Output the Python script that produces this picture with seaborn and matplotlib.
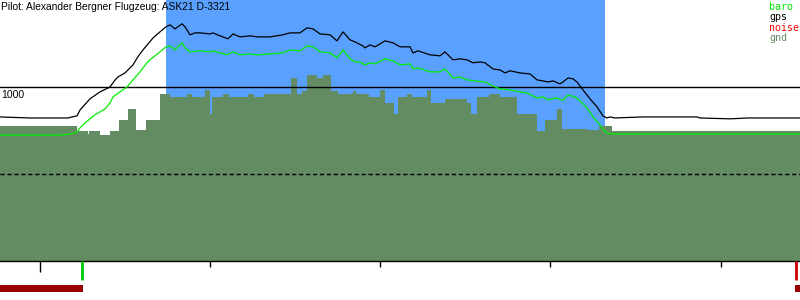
import matplotlib
matplotlib.use("Agg")
import matplotlib.pyplot as plt
import seaborn as sns
import numpy as np
import pandas as pd

# ---------------- data ----------------
title = "Pilot: Alexander Bergner Flugzeug: ASK21 D-3321"

# time axis in sample units (0..800)
gps_t = [0, 30, 60, 68, 72, 77, 80, 85, 90, 100, 110, 115, 118, 125, 133, 138, 143, 153, 160,
         166, 170, 175, 182, 185, 190, 195, 200, 210, 213, 220, 228, 233, 240, 250, 257, 270,
         283, 290, 300, 307, 313, 320, 330, 337, 343, 350, 355, 363, 365, 370, 375, 385, 393,
         400, 410, 413, 418, 430, 440, 445, 453, 460, 467, 473, 480, 485, 493, 500, 505, 510,
         520, 530, 537, 543, 548, 553, 560, 563, 568, 573, 577, 583, 590, 597, 603, 607, 610,
         615, 643, 697, 700, 730, 748, 800]
gps_alt = [828, 822, 822, 822, 828, 834, 868, 900, 932, 972, 1000, 1040, 1058, 1081, 1127, 1175,
           1213, 1282, 1317, 1346, 1357, 1334, 1363, 1346, 1300, 1311, 1311, 1305, 1311, 1294,
           1277, 1305, 1288, 1294, 1288, 1288, 1300, 1311, 1311, 1340, 1334, 1305, 1300, 1265,
           1317, 1271, 1259, 1236, 1225, 1242, 1231, 1265, 1254, 1231, 1231, 1196, 1208, 1185,
           1179, 1202, 1156, 1162, 1156, 1139, 1144, 1139, 1104, 1098, 1081, 1093, 1081, 1075,
           1041, 1035, 1029, 1035, 1018, 1029, 1052, 1047, 1029, 983, 932, 886, 834, 822, 828,
           822, 828, 828, 822, 817, 822, 822]

baro_t = [0, 60, 65, 70, 77, 80, 85, 90, 95, 100, 105, 110, 113, 120, 127, 133, 140, 147, 150,
          160, 166, 170, 175, 182, 185, 190, 200, 210, 213, 220, 227, 233, 240, 250, 257, 270,
          283, 290, 300, 307, 313, 320, 330, 337, 343, 350, 355, 360, 365, 370, 375, 385, 393,
          400, 410, 413, 418, 430, 440, 445, 453, 460, 467, 475, 485, 493, 500, 510, 520, 527,
          537, 543, 548, 555, 563, 568, 575, 580, 587, 593, 600, 605, 610, 800]
baro_alt = [724, 724, 726, 730, 741, 765, 793, 817, 840, 857, 874, 908, 943, 972, 1000, 1041,
            1087, 1139, 1156, 1202, 1231, 1236, 1213, 1254, 1225, 1202, 1208, 1202, 1208, 1196,
            1185, 1202, 1185, 1190, 1185, 1190, 1196, 1213, 1208, 1236, 1231, 1202, 1196, 1167,
            1213, 1162, 1144, 1144, 1127, 1139, 1133, 1162, 1150, 1127, 1133, 1104, 1110, 1087,
            1087, 1104, 1052, 1058, 1041, 1035, 1029, 1006, 989, 983, 972, 966, 937, 943, 925,
            937, 925, 954, 943, 920, 880, 828, 782, 742, 730, 730]

gnd_t = [0, 77, 88, 89, 100, 110, 119, 128, 136, 146, 160, 170, 187, 192, 205, 210, 212, 223,
         229, 248, 254, 264, 291, 297, 302, 307, 317, 323, 331, 338, 353, 356, 369, 380, 385,
         394, 398, 407, 412, 427, 431, 445, 467, 471, 477, 489, 500, 517, 537, 545, 557, 562,
         587, 599, 612]
gnd_alt = [776, 747, 730, 747, 724, 747, 811, 874, 753, 811, 960, 943, 960, 943, 983, 845, 943,
           960, 943, 960, 943, 960, 1052, 960, 977, 1069, 1052, 1069, 977, 960, 977, 960, 943,
           983, 908, 845, 943, 960, 943, 983, 908, 931, 908, 845, 943, 960, 943, 845, 747, 811,
           874, 759, 753, 776, 747]
t_end = 800

task_start, task_end = 166, 605
ref_alt = 1000
dash_alt = 500
major_ticks = [40]
minor_ticks = [209.5, 380, 550, 720.5]
takeoff_t = 82.3
landing_t = 795.7
noise_spans = [(0, 83), (795, 5)]

legend_labels = ["baro", "gps", "noise", "gnd"]

# ---------------- colours ----------------
C_BARO = "#00ee00"
C_GPS = "#000000"
C_NOISE = "#ff0000"
C_GND = "#638c63"
C_TASK = "#5aa0ff"

sns.set_style("white")
plt.rcParams["font.family"] = ["Liberation Sans", "DejaVu Sans"]

fig = plt.figure(figsize=(8, 3), dpi=100)
ax = fig.add_axes([0, 39 / 300, 1, 261 / 300])
ax2 = fig.add_axes([0, 0, 1, 39 / 300])

ax.axvspan(task_start, task_end, color=C_TASK, lw=0, zorder=0)

gnd_df = pd.DataFrame({"t": gnd_t, "alt": gnd_alt})
edges = list(gnd_t) + [t_end]
sns.histplot(data=gnd_df, x="t", weights="alt", bins=edges, element="step", fill=True,
             color=C_GND, alpha=1, linewidth=0, ax=ax, zorder=1)

ax.axhline(ref_alt, color="black", lw=1.0, zorder=2)
ax.axhline(dash_alt, color="black", lw=1.0, zorder=2, dashes=(3, 2))

sns.lineplot(x=gps_t, y=gps_alt, color=C_GPS, lw=0.9, sort=False, estimator=None, ax=ax, zorder=3)
sns.lineplot(x=baro_t, y=baro_alt, color=C_BARO, lw=0.9, sort=False, estimator=None, ax=ax, zorder=3)

ax.set_xlim(0, t_end)
ax.set_ylim(0, 1500)
ax.set_xlabel("")
ax.set_ylabel("")
for s in ["top", "left", "right"]:
    ax.spines[s].set_visible(False)
ax.spines["bottom"].set_color("black")
ax.spines["bottom"].set_linewidth(1.0)
ax.set_yticks([])
ax.set_xticks(major_ticks)
ax.set_xticks(minor_ticks, minor=True)
ax.set_xticklabels([])
ax.tick_params(axis="x", which="major", direction="out", length=8, width=1, color="black", bottom=True)
ax.tick_params(axis="x", which="minor", direction="out", length=4.5, width=1, color="black", bottom=True)
ax.set_facecolor("white")
ax.patch.set_alpha(0)

ax.annotate("1000", xy=(0, ref_alt), xycoords=("axes fraction", "data"),
            xytext=(1, -2), textcoords="offset points", ha="left", va="top",
            fontsize=7.6, color="black")

# bottom strip
ax2.set_xlim(0, t_end)
ax2.set_ylim(0, 39)
ax2.axis("off")
ax2.vlines(takeoff_t, 20.5, 39, color="#00c800", lw=2.0)
ax2.vlines(landing_t, 20.5, 39, color="#d00000", lw=2.0)
ax2.broken_barh(noise_spans, (8, 7), color="#990000", lw=0)

fig.text(1 / 800, 1 - 7 / 300, title, ha="left", va="center", fontsize=7.4, color="black")

leg_colors = [C_BARO, C_GPS, C_NOISE, C_GND]
for i, (lab, col) in enumerate(zip(legend_labels, leg_colors)):
    fig.text(769 / 800, 1 - (7 + i * 10.3) / 300, lab, ha="left", va="center",
             fontsize=7.2, color=col, family="DejaVu Sans Mono")

fig.savefig("out.png", dpi=100)
